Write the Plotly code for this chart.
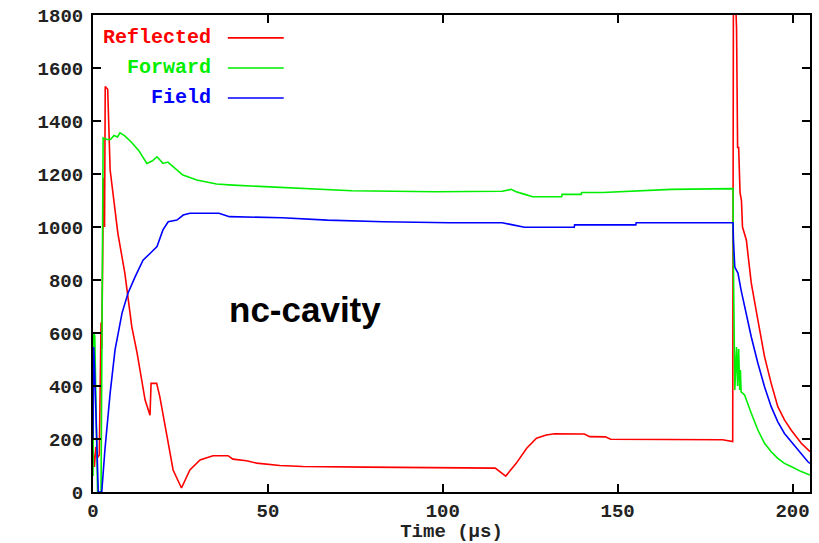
import plotly.graph_objects as go

# ---- data ----
t_reflected = [0, 0.4, 0.8, 1.3, 1.8, 2.1, 2.3, 2.5, 2.8, 3.0, 3.3, 3.5, 4.2, 4.4, 4.9, 6.3, 7.1, 9.1,
               11.1, 12.6, 14.0, 14.9, 16.3, 16.6, 18.2, 19.1, 21.0, 22.9, 25.3, 27.7, 30.6, 34.3,
               38.6, 40.0, 43.9, 46.8, 53.4, 60, 78, 100, 115, 118, 121, 124, 126.8, 129.6, 132,
               140.5, 142, 146.5, 148, 180, 182.5, 182.9, 183.1, 183.6, 184.0, 184.3, 184.6, 185.0,
               185.4, 185.7, 186.8, 188.2, 190.1, 192, 193.9, 195.8, 197.7, 199.6, 202.5, 204.4, 205]
v_reflected = [160, 95, 170, 130, 140, 510, 640, 540, 980, 1185, 1000, 1530, 1520, 1440, 1215, 1064, 977, 826,
               623, 525, 423, 347, 290, 410, 410, 360, 222, 83, 15, 83, 121, 137,
               137, 124, 118, 109, 100, 96, 94, 90, 90, 60, 108, 165, 203, 215, 220,
               219, 209, 208, 199, 197, 190, 190, 1850, 1900, 1750, 1300, 1300, 1130,
               1100, 1000, 951, 789, 649, 511, 410, 322, 272, 234, 184, 158, 152]

t_forward = [0, 0.2, 0.5, 0.9, 1.3, 2.3, 2.7, 2.9, 4.0, 5.0, 6.0, 7.0, 7.7, 9, 11, 13, 15.4, 16.3, 17.0,
             18.3, 20, 21.4, 23.5, 25.7, 29.7, 35.3, 40, 49.7, 62, 74, 98, 117, 119.5, 121, 123,
             125.7, 134, 134.1, 139.6, 139.7, 145.8, 154.4, 165.3, 183, 183.1, 183.5, 184.0, 184.3,
             184.6, 184.9, 185.1, 185.3, 186.3, 188.2, 190.1, 192, 193.9, 195.8, 197.7, 199.6, 202.5, 205]
v_forward = [60, 600, 590, 300, 0, 0, 1000, 1336, 1330, 1330, 1345, 1340, 1355, 1345, 1320, 1290, 1240, 1245, 1250,
             1265, 1240, 1245, 1220, 1196, 1177, 1162, 1158, 1152, 1142, 1137, 1133, 1135, 1142, 1133, 1125,
             1114, 1114, 1123, 1123, 1130, 1130, 1136, 1142, 1145, 860, 385, 547, 400,
             540, 385, 460, 378, 366, 297, 234, 184, 152, 127, 108, 96, 77, 64]

t_field = [0, 0.2, 0.5, 0.8, 1.2, 1.5, 2.5, 3.4, 4.9, 6.3, 8.3, 10, 12, 14.3, 16.3, 18.3, 20, 21.5, 24,
           25.8, 27.7, 36, 39, 54, 67, 83, 102, 117, 120, 123.4, 137.6, 137.7, 155.2, 155.3, 183,
           183.1, 183.5, 184.4, 185.3, 186.3, 188.2, 190.1, 192, 193.9, 195.8, 197.7, 199.6, 202.5, 204.4, 205]
v_field = [200, 547, 450, 300, 50, 0, 0, 158, 373, 536, 675, 750, 811, 875, 900, 926, 989, 1020, 1026,
           1045, 1052, 1052, 1039, 1035, 1026, 1020, 1016, 1016, 1008, 999, 999, 1008, 1008, 1016, 1016,
           951, 849, 826, 762, 699, 586, 486, 397, 322, 265, 221, 190, 146, 114, 108]

series_names = ["Reflected", "Forward", "Field"]
series_colors = ["#ff0000", "#00ee00", "#0000ff"]
x_ticks = [0, 50, 100, 150, 200]
y_ticks = [0, 200, 400, 600, 800, 1000, 1200, 1400, 1600, 1800]
annotation_text = "nc-cavity"

mono = "Liberation Mono, Courier New, monospace"

fig = go.Figure()
for t, v, name, col in zip([t_reflected, t_forward, t_field],
                           [v_reflected, v_forward, v_field],
                           series_names, series_colors):
    fig.add_trace(go.Scatter(x=t, y=v, mode="lines", name=name,
                             line=dict(color=col, width=1.6), showlegend=False))

# legend drawn gnuplot-style (text right-aligned, sample line to the right)
leg_y = [0.952, 0.889, 0.826]
for name, col, yy in zip(series_names, series_colors, leg_y):
    fig.add_annotation(xref="paper", yref="paper", x=0.168, y=yy, text=name, showarrow=False,
                       xanchor="right", yanchor="middle",
                       font=dict(family=mono, size=20, color=col, weight="bold"))
    fig.add_shape(type="line", xref="paper", yref="paper", x0=0.188, x1=0.266, y0=yy, y1=yy,
                  line=dict(color=col, width=1.6))

fig.add_annotation(x=60.6, y=690, text=annotation_text, showarrow=False,
                   font=dict(family="Liberation Sans, Arial, sans-serif", size=35, color="black",
                             weight="bold"))

axis_common = dict(showgrid=False, zeroline=False, showline=True, linecolor="black", linewidth=2,
                   mirror="ticks", ticks="inside", ticklen=8, tickwidth=2, tickcolor="black",
                   automargin=False, ticklabeloverflow="allow",
                   tickfont=dict(family=mono, size=19, color="#222", weight="bold"))

fig.update_xaxes(range=[0, 205], tickvals=x_ticks,
                 title=dict(text="Time (µs)", standoff=2,
                            font=dict(family=mono, size=19, color="#222", weight="bold")),
                 ticklabelstandoff=0, **axis_common)
fig.update_yaxes(range=[0, 1800], tickvals=y_ticks, ticklabelstandoff=4, **axis_common)

fig.update_layout(width=819, height=543, margin=dict(l=93, r=9, t=15, b=51),
                  paper_bgcolor="white", plot_bgcolor="white")

# remove the default page margin so the figure fills the 819x543 window exactly
fig.write_html("out.html", config={"displayModeBar": False},
               post_script="document.body.style.margin='0px';document.body.style.overflow='hidden';")
